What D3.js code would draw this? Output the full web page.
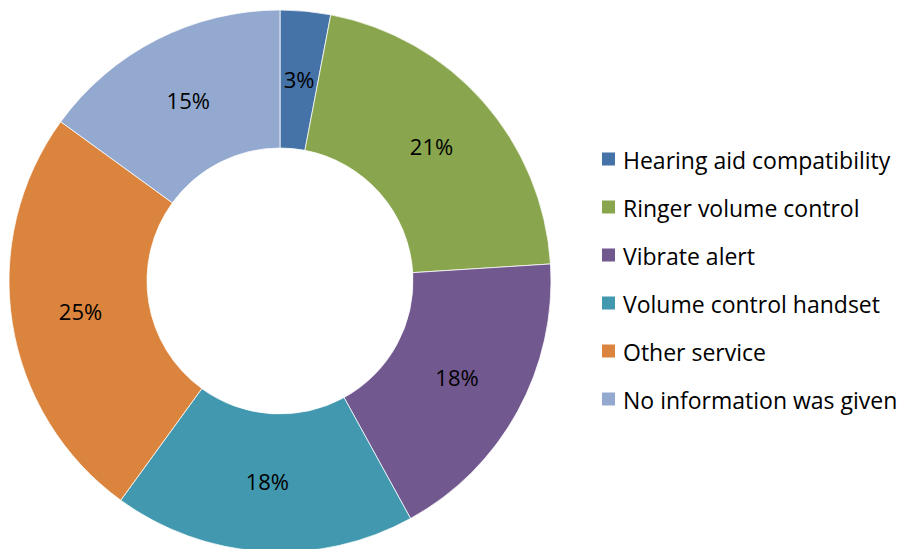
<!DOCTYPE html>
<html>
<head>
<meta charset="utf-8">
<script src="https://cdn.jsdelivr.net/npm/d3@7"></script>
<style>
  html, body { margin: 0; padding: 0; background: #fff; }
  svg { display: block; }
  text { font-family: "Open Sans", Lato, "Liberation Sans", sans-serif; fill: #000; }
</style>
</head>
<body>
<svg id="chart" width="904" height="549"></svg>
<script>
// Accessibility features reported
const categories = [
  "Hearing aid compatibility",
  "Ringer volume control",
  "Vibrate alert",
  "Volume control handset",
  "Other service",
  "No information was given"
];
const values = [3, 21, 18, 18, 25, 15];
const colors = ["#4572A7", "#89A54E", "#71588F", "#4198AF", "#DB843D", "#93A9CF"];

const svg = d3.select("#chart");
const cx = 280, cy = 281, outerR = 271, innerR = 133;

const color = d3.scaleOrdinal().domain(categories).range(colors);
const total = d3.sum(values);
const data = categories.map((c, i) => ({ name: c, value: values[i] }));

const pie = d3.pie().value(d => d.value).sort(null);
const arc = d3.arc().innerRadius(innerR).outerRadius(outerR);
const labelArc = d3.arc().innerRadius((innerR + outerR) / 2).outerRadius((innerR + outerR) / 2);

const g = svg.append("g").attr("transform", `translate(${cx},${cy})`);
const arcs = pie(data);

g.selectAll("path.slice")
  .data(arcs)
  .join("path")
  .attr("class", "slice")
  .attr("d", arc)
  .attr("fill", d => color(d.data.name))
  .attr("stroke", "#fff")
  .attr("stroke-width", 0.75);

g.selectAll("text.pct")
  .data(arcs)
  .join("text")
  .attr("class", "pct")
  .attr("transform", d => `translate(${labelArc.centroid(d)})`)
  .attr("text-anchor", "middle")
  .attr("dy", "0.35em")
  .style("font-size", "22px")
  .text(d => Math.round(d.data.value / total * 100) + "%");

// Legend
const legend = svg.append("g").attr("transform", "translate(602,159)");
const rowH = 48;
const item = legend.selectAll("g.item")
  .data(categories)
  .join("g")
  .attr("class", "item")
  .attr("transform", (d, i) => `translate(0,${i * rowH})`);

item.append("rect")
  .attr("x", 0).attr("y", -6.5)
  .attr("width", 13).attr("height", 13)
  .attr("fill", d => color(d));

item.append("text")
  .attr("x", 21)
  .attr("dy", "0.42em")
  .style("font-size", "23px")
  .text(d => d);
</script>
</body>
</html>
